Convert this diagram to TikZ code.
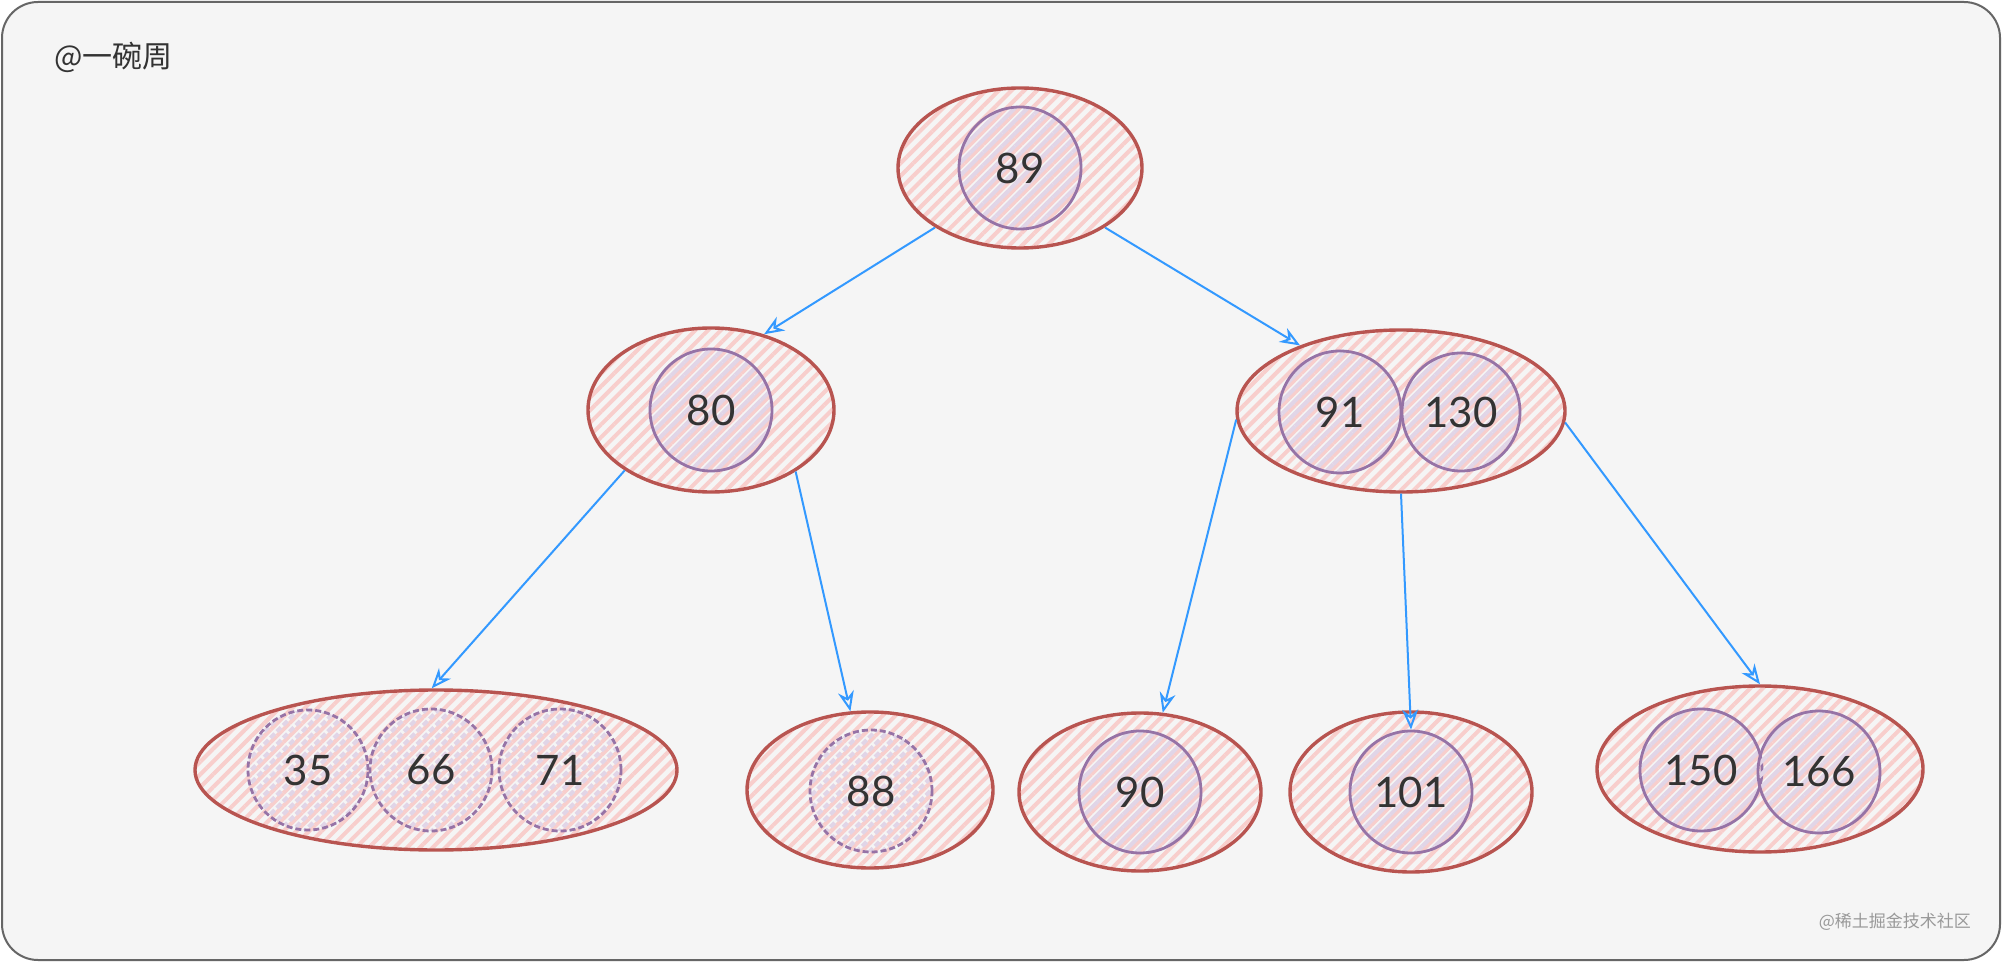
\documentclass[tikz,border=0pt]{standalone}
\usepackage{fontspec}
\setmainfont{Lato}
\newfontfamily\cjkfont{Noto Sans CJK SC}
\usepackage{tikz}
\usetikzlibrary{positioning,arrows.meta,shapes.geometric,patterns.meta}

\definecolor{bgcol}{HTML}{F5F5F5}
\definecolor{framecol}{HTML}{666666}
\definecolor{shellline}{HTML}{B85450}
\definecolor{shellfill}{HTML}{F8CECC}
\definecolor{keyline}{HTML}{9673A6}
\definecolor{keyfill}{HTML}{E1D5E7}
\definecolor{arrcol}{HTML}{3399FF}
\definecolor{txtcol}{HTML}{333333}

\begin{document}
\begin{tikzpicture}[
    x=0.5pt, y=-0.5pt,
    font=\fontsize{21}{24}\selectfont,
    shell/.style={ellipse, draw=shellline, line width=1.7pt, inner sep=0pt,
                  pattern={Lines[angle=45,distance=4.5pt,line width=2pt]},
                  pattern color=shellfill},
    key/.style={circle, draw=keyline, line width=1.4pt, inner sep=0pt,
                minimum size=61pt, text=txtcol,
                pattern={Lines[angle=45,distance=4.5pt,line width=2pt,yshift=2.25pt]},
                pattern color=keyfill},
    dkey/.style={key, dash pattern=on 3pt off 1.5pt},
    arr/.style={-{Stealth[open,length=10pt,width=8pt]}, arrcol, line width=1pt}
  ]
    \fill[white] (0,0) rectangle (2002,962);
    \useasboundingbox (0,0) rectangle (2002,962);
    \draw[framecol, line width=1pt, fill=bgcol, rounded corners=18pt]
      (2,2) rectangle (2000,960);

    \node[anchor=west, text=txtcol, font=\cjkfont\fontsize{15}{17}\selectfont]
      (author) at (47,57) {@一碗周};
    \node[anchor=east, text=black!40, font=\cjkfont\fontsize{8.5}{10}\selectfont]
      (mark) at (1978,922) {@稀土掘金技术社区};

    % root
    \node[shell, minimum width=122pt, minimum height=80pt] (n89) at (1020,168) {};
    \node[key] (k89) at (n89) {89};
    % second level
    \node[shell, minimum width=123pt, minimum height=82pt] (n80) at (711,410) {};
    \node[key] (k80) at (n80) {80};
    \node[shell, minimum width=164pt, minimum height=81pt] (n91) at (1401,411) {};
    \node[key] (k91) at (1340,412) {91};
    \node[key, minimum size=59pt] (k130) at (1461,412) {130};
    % leaves
    \node[shell, minimum width=241pt, minimum height=80pt] (n35) at (436,770) {};
    \node[dkey, minimum size=60pt] (k35) at (308,770) {35};
    \node[dkey] (k66) at (431,770) {66};
    \node[dkey] (k71) at (560,770) {71};
    \node[shell, minimum width=123pt, minimum height=78pt] (n88) at (870,790) {};
    \node[dkey] (k88) at (871,791) {88};
    \node[shell, minimum width=121pt, minimum height=79pt] (n90) at (1140,792) {};
    \node[key] (k90) at (n90) {90};
    \node[shell, minimum width=121pt, minimum height=80pt] (n101) at (1411,792) {};
    \node[key] (k101) at (n101) {101};
    \node[shell, minimum width=163pt, minimum height=83pt] (n150) at (1760,769) {};
    \node[key] (k150) at (1701,770) {150};
    \node[key] (k166) at (1819,772) {166};

    \draw[arr] (n89.215) -- (n80.55);
    \draw[arr] (n89.325) -- (n91.147);
    \draw[arr] (n80.215) -- (n35.93);
    \draw[arr] (n80.324) -- (n88.104);
    \draw[arr] (n91.183) -- (n90.74);
    \draw[arr] (n91.270) -- (k101.90);
    \draw[arr] (n91.356) -- (n150.90);
  \end{tikzpicture}
\end{document}
